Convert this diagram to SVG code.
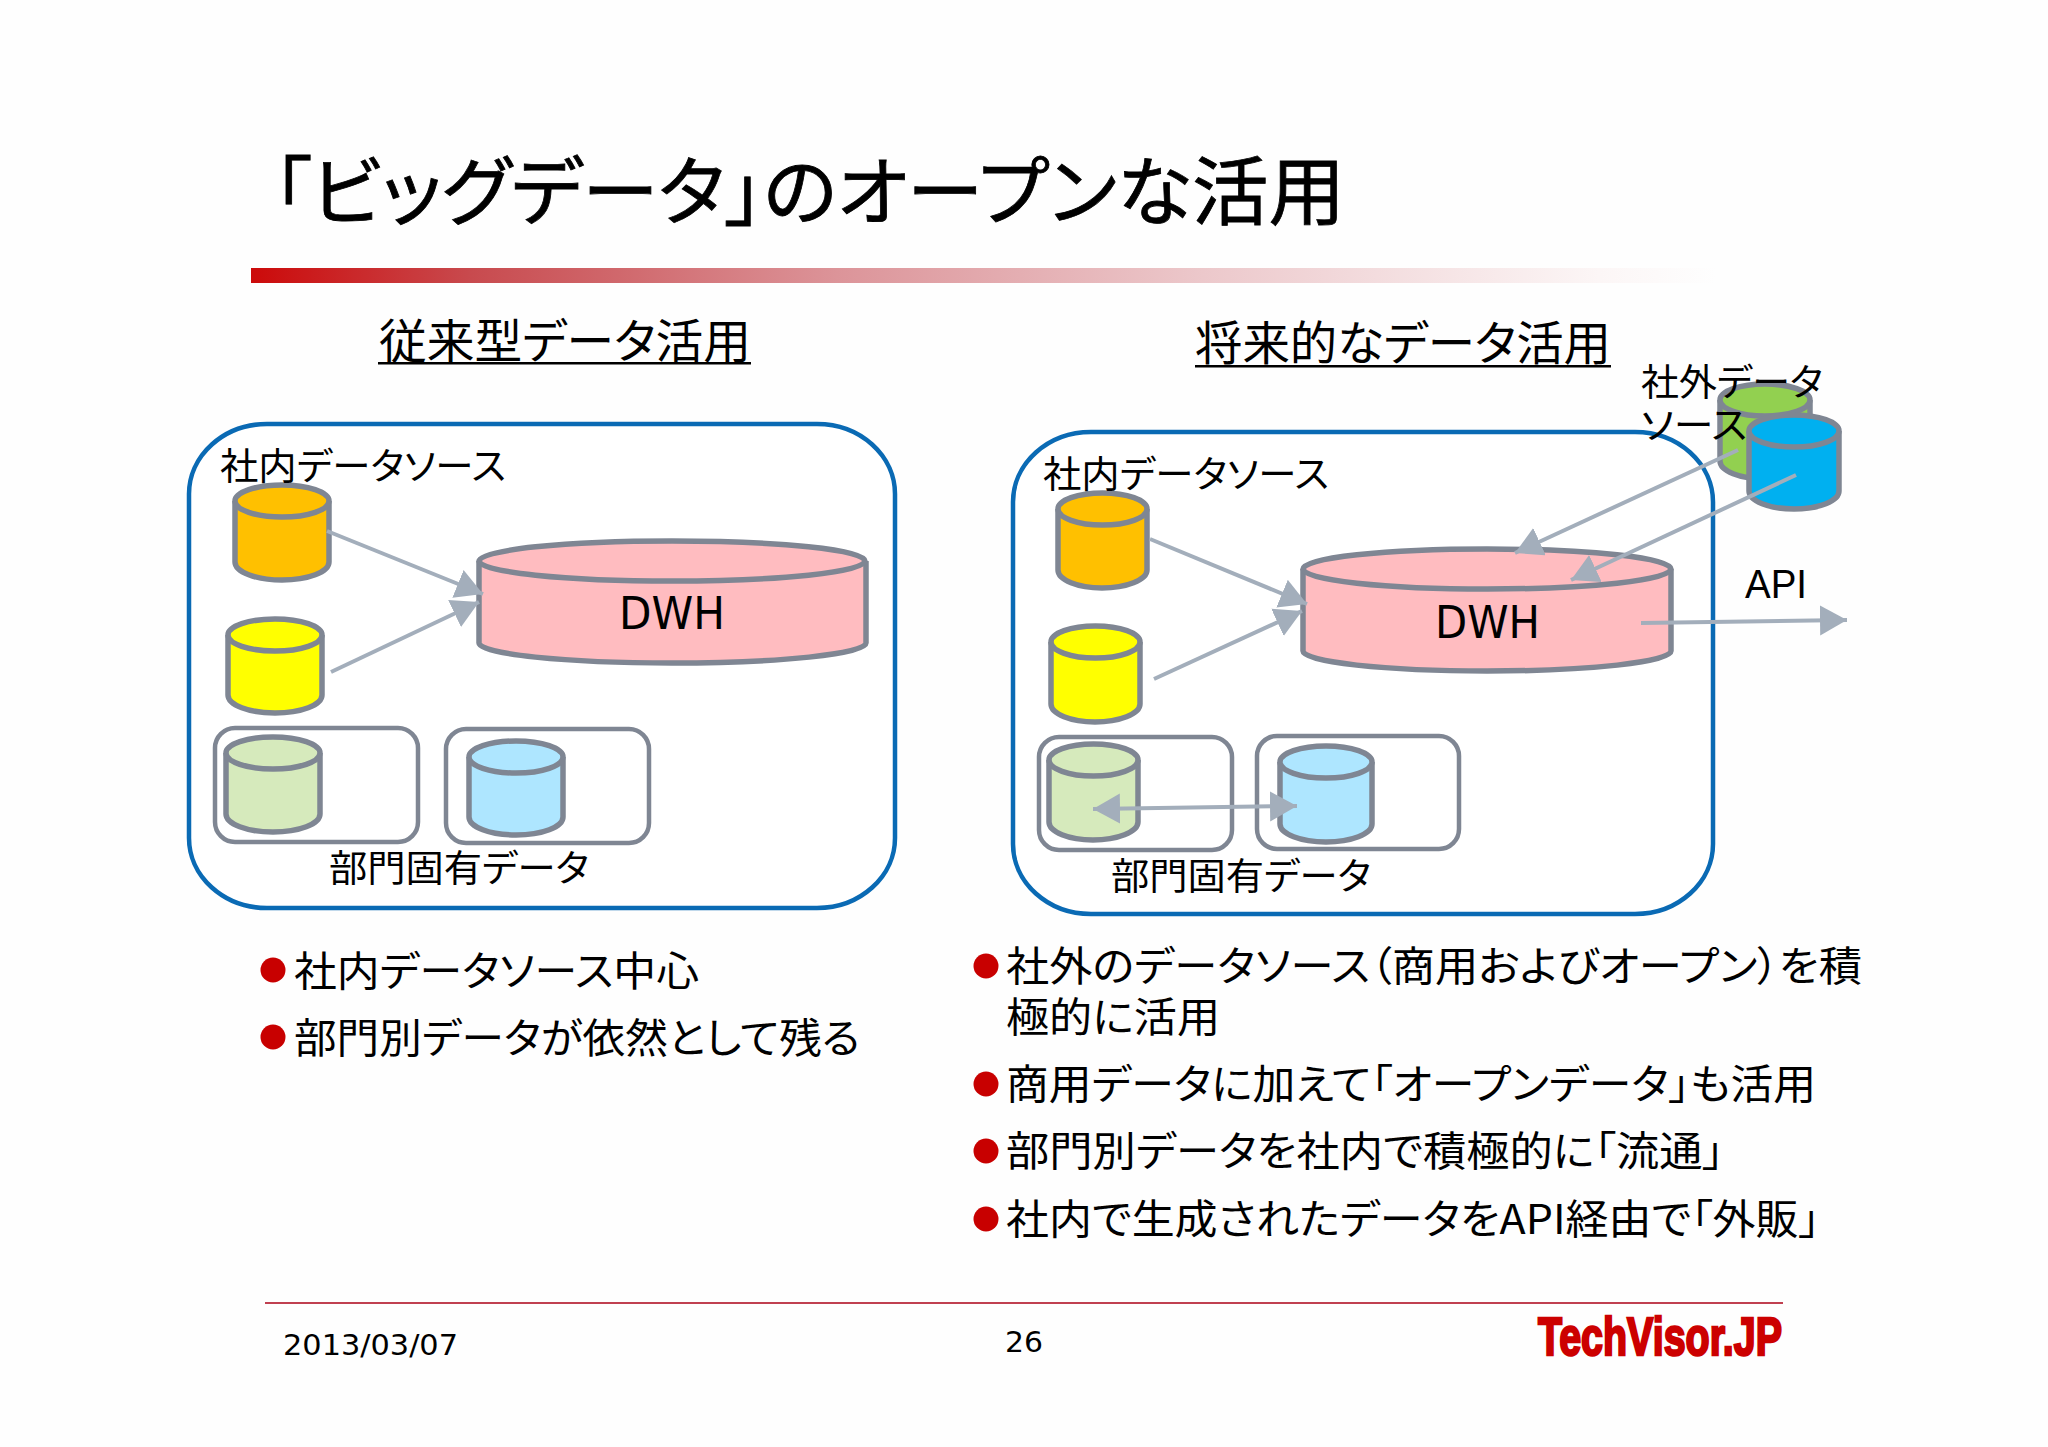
<svg xmlns="http://www.w3.org/2000/svg" width="2048" height="1447" viewBox="0 0 2048 1447">
<style>
text{font-family:"Noto Sans CJK JP","Liberation Sans",sans-serif;fill:#000;font-feature-settings:"palt"}
.t36{font-size:37px}.t46{font-size:47px}.t41{font-size:44px}
.lat{font-family:"DejaVu Sans",Verdana,sans-serif}
.cyl{stroke:#7f8693;stroke-width:5.5}
.box{fill:#fff;stroke:#0a6ab4;stroke-width:4.5}
.sub{fill:#fff;stroke:#7f8693;stroke-width:4.5}
.conn{fill:none;stroke:#a3aebb;stroke-width:4;marker-end:url(#a)}
.bul{fill:#c80000}
</style>
<defs>
<linearGradient id="g"><stop offset="0" stop-color="#cc0a0a"/><stop offset=".15" stop-color="#c84a4e"/><stop offset=".4" stop-color="#dc9499"/><stop offset=".65" stop-color="#ecc8cb"/><stop offset=".92" stop-color="#fcf6f6"/><stop offset="1" stop-color="#fefefe"/></linearGradient>
<marker id="a" markerUnits="userSpaceOnUse" markerWidth="30" markerHeight="32" refX="27" refY="15" orient="auto-start-reverse"><path d="M0 0L27 15L0 30Z" fill="#a3aebb"/></marker>
</defs>
<rect width="2048" height="1447" fill="#fefefe"/>
<g id="header">
<text x="273" y="219" font-size="75" stroke="#000" stroke-width=".8" textLength="1072" lengthAdjust="spacingAndGlyphs">「ビッグデータ」のオープンな活用</text>
<rect x="251" y="268" width="1465" height="15" fill="url(#g)"/>
<text class="t46" x="379" y="358" textLength="372" lengthAdjust="spacingAndGlyphs">従来型データ活用</text>
<rect x="378" y="362" width="373" height="2.5"/>
<text class="t46" x="1195" y="360" textLength="416" lengthAdjust="spacingAndGlyphs">将来的なデータ活用</text>
<rect x="1195" y="365" width="416" height="2.5"/>
</g>
<g id="left-frame"><rect class="box" x="189" y="424" width="706" height="484" rx="78" ry="70"/></g>
<g id="right-frame"><rect class="box" x="1013" y="432" width="700" height="482" rx="78" ry="70"/></g>
<g id="left-dept-1"><rect class="sub" x="215" y="728" width="203" height="114" rx="20"/></g>
<g id="left-dept-2"><rect class="sub" x="446" y="729" width="203" height="114" rx="20"/></g>
<g id="right-dept-1"><rect class="sub" x="1039" y="737" width="193" height="113" rx="20"/></g>
<g id="right-dept-2"><rect class="sub" x="1257" y="736" width="202" height="113" rx="20"/></g>

<g id="l-orange"><path class="cyl" fill="#ffc000" d="M235 501V562C235 572 256 580 282 580S329 572 329 562V501"/><ellipse class="cyl" fill="#ffc000" cx="282" cy="501" rx="47" ry="16"/></g>
<g id="l-yellow"><path class="cyl" fill="#ffff00" d="M228 635V695C228 705 249 713 275 713S322 705 322 695V635"/><ellipse class="cyl" fill="#ffff00" cx="275" cy="635" rx="47" ry="16"/></g>
<g id="l-green"><path class="cyl" fill="#d6eabc" d="M226 753V814C226 824 247 832 273 832S320 824 320 814V753"/><ellipse class="cyl" fill="#d6eabc" cx="273" cy="753" rx="47" ry="16"/></g>
<g id="l-blue"><path class="cyl" fill="#aee6ff" d="M469 757V817C469 827 490 835 516 835S563 827 563 817V757"/><ellipse class="cyl" fill="#aee6ff" cx="516" cy="757" rx="47" ry="16"/></g>
<g id="l-dwh"><path class="cyl" fill="#ffbcc0" d="M479 561V643C479 654 565 663 672 663S866 654 866 643V561"/><ellipse class="cyl" fill="#ffbcc0" cx="672" cy="561" rx="193" ry="20"/><text class="lat t41" x="619" y="629" textLength="106" lengthAdjust="spacingAndGlyphs">DWH</text></g>

<g id="r-orange"><path class="cyl" fill="#ffc000" d="M1058 509V570C1058 580 1078 588 1102 588S1147 580 1147 570V509"/><ellipse class="cyl" fill="#ffc000" cx="1102.500" cy="509" rx="44.500" ry="16"/></g>
<g id="r-yellow"><path class="cyl" fill="#ffff00" d="M1051 642V704C1051 714 1071 722 1095 722S1140 714 1140 704V642"/><ellipse class="cyl" fill="#ffff00" cx="1095.500" cy="642" rx="44.500" ry="16"/></g>
<g id="r-green"><path class="cyl" fill="#d6eabc" d="M1049 760V822C1049 832 1069 840 1093 840S1138 832 1138 822V760"/><ellipse class="cyl" fill="#d6eabc" cx="1093.500" cy="760" rx="44.500" ry="16"/></g>
<g id="r-blue"><path class="cyl" fill="#aee6ff" d="M1280 762V824C1280 834 1301 842 1326 842S1372 834 1372 824V762"/><ellipse class="cyl" fill="#aee6ff" cx="1326" cy="762" rx="46" ry="16"/></g>
<g id="r-dwh"><path class="cyl" fill="#ffbcc0" d="M1303 569V651C1303 662 1385 671 1487 671S1671 662 1671 651V569"/><ellipse class="cyl" fill="#ffbcc0" cx="1487" cy="569" rx="184" ry="20"/><text class="lat t41" x="1435" y="638" textLength="105" lengthAdjust="spacingAndGlyphs">DWH</text></g>
<g id="ext-green"><path class="cyl" fill="#92d050" d="M1720 400V461C1720 471 1740 479 1765 479S1810 471 1810 461V400"/><ellipse class="cyl" fill="#92d050" cx="1765" cy="400" rx="45" ry="16"/></g>
<g id="ext-blue"><path class="cyl" fill="#00b0f0" d="M1749 431V491C1749 501 1769 509 1794 509S1839 501 1839 491V431"/><ellipse class="cyl" fill="#00b0f0" cx="1794" cy="431" rx="45" ry="16"/></g>

<g id="connectors">
<path class="conn" d="M327 531L483 594"/>
<path class="conn" d="M331 672L479 602"/>
<path class="conn" d="M1150 539L1307 604"/>
<path class="conn" d="M1154 679L1302 611"/>
<path class="conn" d="M1738 450L1515 553"/>
<path class="conn" d="M1796 475L1571 580"/>
<path class="conn" d="M1641 623L1847 620"/>
<path class="conn" style="marker-start:url(#a)" d="M1093 809L1297 806"/>
</g>
<g id="labels">
<text class="t36" x="220" y="480" textLength="286" lengthAdjust="spacingAndGlyphs">社内データソース</text>
<text class="t36" x="329" y="882" textLength="260" lengthAdjust="spacingAndGlyphs">部門固有データ</text>
<text class="t36" x="1043" y="488" textLength="286" lengthAdjust="spacingAndGlyphs">社内データソース</text>
<text class="t36" x="1111" y="890" textLength="260" lengthAdjust="spacingAndGlyphs">部門固有データ</text>
<text class="t36" x="1641" y="396" textLength="182" lengthAdjust="spacingAndGlyphs">社外データ</text>
<text class="t36" x="1641" y="439" textLength="106" lengthAdjust="spacingAndGlyphs">ソース</text>
<text font-size="40" style="font-family:'Liberation Sans',sans-serif" x="1745" y="598" textLength="62" lengthAdjust="spacingAndGlyphs">API</text>
</g>
<g id="bullets-left">
<circle class="bul" cx="273" cy="970" r="12.500"/><text x="294" y="986" font-size="41" textLength="405" lengthAdjust="spacingAndGlyphs">社内データソース中心</text>
<circle class="bul" cx="273" cy="1037" r="12.500"/><text x="294" y="1053" font-size="41" textLength="566" lengthAdjust="spacingAndGlyphs">部門別データが依然として残る</text>
</g>
<g id="bullets-right">
<circle class="bul" cx="986" cy="966" r="12.500"/><text x="1006" y="981" font-size="41" textLength="856" lengthAdjust="spacingAndGlyphs">社外のデータソース（商用およびオープン）を積</text>
<text x="1006" y="1032" font-size="41" textLength="214" lengthAdjust="spacingAndGlyphs">極的に活用</text>
<circle class="bul" cx="986" cy="1084" r="12.500"/><text x="1006" y="1099" font-size="41" textLength="810" lengthAdjust="spacingAndGlyphs">商用データに加えて「オープンデータ」も活用</text>
<circle class="bul" cx="986" cy="1151" r="12.500"/><text x="1006" y="1166" font-size="41" textLength="718" lengthAdjust="spacingAndGlyphs">部門別データを社内で積極的に「流通」</text>
<circle class="bul" cx="986" cy="1219" r="12.500"/><text x="1006" y="1234" font-size="41" textLength="814" lengthAdjust="spacingAndGlyphs">社内で生成されたデータをAPI経由で「外販」</text>
</g>
<g id="footer">
<rect x="265" y="1302" width="1518" height="2" fill="#c04050"/>
<text class="lat" font-size="29" x="283" y="1355" textLength="175" lengthAdjust="spacingAndGlyphs">2013/03/07</text>
<text class="lat" font-size="29" x="1005" y="1352" textLength="38" lengthAdjust="spacingAndGlyphs">26</text>
<text x="1538" y="1355" font-size="54" font-weight="700" style="font-family:'Liberation Sans Narrow','Liberation Sans',sans-serif;fill:#cc0000;stroke:#cc0000;stroke-width:2.500" textLength="244" lengthAdjust="spacingAndGlyphs">TechVisor.JP</text>
</g>
</svg>
